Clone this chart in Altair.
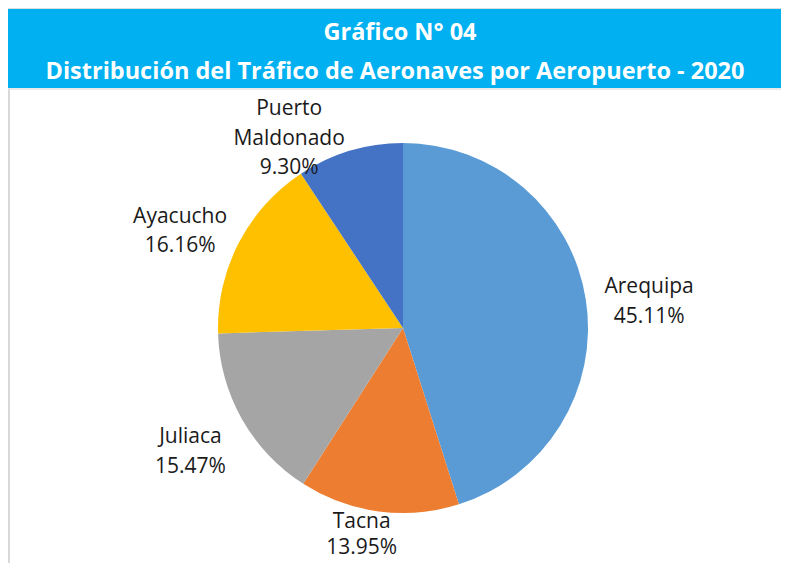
import altair as alt
import pandas as pd

airports = ["Arequipa", "Tacna", "Juliaca", "Ayacucho", "Puerto\nMaldonado"]
shares = [45.11, 13.95, 15.47, 16.16, 9.30]
colors = ["#5B9BD5", "#ED7D31", "#A5A5A5", "#FFC000", "#4472C4"]
title_lines = ["Gráfico N° 04", "Distribución del Tráfico de Aeronaves por Aeropuerto - 2020"]

df = pd.DataFrame({
    "airport": airports,
    "share": shares,
    "order": list(range(len(airports))),
    "label": [f"{a}\n{s:.2f}%" for a, s in zip(airports, shares)],
})

W, H = 773, 555
CX, CY = 395, 320
LH = 29.5

one = pd.DataFrame({"a": [0]})
banner = alt.Chart(one).mark_rect(color="#00B0F0").encode(
    x=alt.value(0), x2=alt.value(W), y=alt.value(1), y2=alt.value(80)
)
frame_l = alt.Chart(one).mark_rule(color="#D9D9D9", strokeWidth=2).encode(
    x=alt.value(1), y=alt.value(80), y2=alt.value(H)
)
frame_t = alt.Chart(one).mark_rule(color="#E3E3E3", strokeWidth=1.5).encode(
    x=alt.value(0), x2=alt.value(W), y=alt.value(81)
)

t1 = alt.Chart(pd.DataFrame({"t": [title_lines[0]]})).mark_text(
    font="Open Sans", fontWeight="bold", fontSize=23.5, color="white", align="center", baseline="middle"
).encode(text="t:N", x=alt.value(392), y=alt.value(25))
t2 = alt.Chart(pd.DataFrame({"t": [title_lines[1]]})).mark_text(
    font="Open Sans", fontWeight="bold", fontSize=23.5, color="white", align="center", baseline="middle"
).encode(text="t:N", x=alt.value(387), y=alt.value(64))

base = alt.Chart(df).encode(
    theta=alt.Theta("share:Q", stack=True),
    order=alt.Order("order:Q"),
)

shadow = alt.Chart(pd.DataFrame({"a": [1]})).mark_arc(
    radius=188, color="#000000", opacity=0.08
).encode(theta=alt.Theta("a:Q"), x=alt.value(CX + 2), y=alt.value(CY + 3))

pie = base.mark_arc(radius=185).encode(
    color=alt.Color("airport:N", scale=alt.Scale(domain=airports, range=colors), legend=None),
    x=alt.value(CX), y=alt.value(CY),
)

# per-label placement (radius from centre, extra offsets), as Excel places them
placements = {
    0: dict(radius=247, dx=2, dy=12, lh=LH),
    1: dict(radius=216, dx=-13, dy=-7, lh=26),
    2: dict(radius=242, dx=-2, dy=5, lh=LH),
    3: dict(radius=250, dx=-1, dy=18.5, lh=LH),
    4: dict(radius=232, dx=-47, dy=33, lh=LH),
}
label_layers = []
for i, p in placements.items():
    nlines = df["label"].iloc[i].count("\n") + 1
    label_layers.append(
        base.mark_text(
            radius=p["radius"], font="Open Sans", fontSize=21, color="#1a1a1a", lineBreak="\n",
            align="center", baseline="middle", lineHeight=p["lh"],
            dx=p["dx"], dy=p["dy"] - (nlines - 1) * p["lh"] / 2,
        ).encode(
            text=alt.condition(alt.datum.order == i, "label:N", alt.value("")),
            x=alt.value(CX), y=alt.value(CY),
        )
    )

chart = alt.layer(banner, frame_l, frame_t, t1, t2, shadow, pie, *label_layers).properties(
    width=W, height=H, padding=0, autosize=alt.AutoSizeParams(type="none")
).configure_view(stroke="transparent", strokeWidth=0).configure(background="white")

chart.save("out.html", embed_options={"renderer": "svg", "actions": False})
